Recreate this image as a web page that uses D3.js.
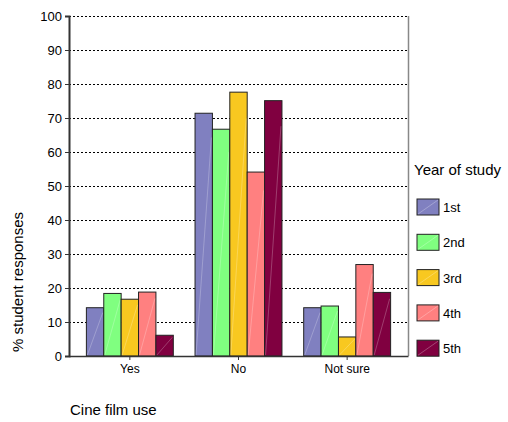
<!DOCTYPE html>
<html><head><meta charset="utf-8">
<script src="https://cdn.jsdelivr.net/npm/d3@7"></script>
<style>body{margin:0;background:#fff}svg{display:block}text{font-family:"Liberation Sans",Arial,sans-serif;fill:#000}</style>
</head><body><svg id="c" width="508" height="422"></svg>
<script>
const categories = ["Yes", "No", "Not sure"];
const seriesNames = ["1st", "2nd", "3rd", "4th", "5th"];
const seriesColors = ["#8080c0", "#80ff80", "#f8c820", "#ff8080", "#800040"];
const values = {
  "1st": [14.2, 71.4, 14.2],
  "2nd": [18.4, 66.7, 14.7],
  "3rd": [16.7, 77.6, 5.6],
  "4th": [18.8, 54.1, 26.9],
  "5th": [6.1, 75.1, 18.7]
};
const yTicks = [0,10,20,30,40,50,60,70,80,90,100];

const svg = d3.select("#c");
const L = 69, R = 408, T = 16, B = 356;
const y = d3.scaleLinear().domain([0,100]).range([B,T]);
const x0 = d3.scaleBand().domain(categories).range([L,R]).paddingInner(0.2).paddingOuter(0.16);
const x1 = d3.scaleBand().domain(seriesNames).range([0,x0.bandwidth()]);
const color = d3.scaleOrdinal().domain(seriesNames).range(seriesColors);

// gridlines
svg.append("g").selectAll("line").data(yTicks.filter(d=>d>0)).join("line")
  .attr("x1",L).attr("x2",R).attr("y1",d=>y(d)+0.5).attr("y2",d=>y(d)+0.5)
  .attr("stroke","#000").attr("stroke-dasharray","2,2").attr("stroke-width",1);
// right border
svg.append("line").attr("x1",R+0.5).attr("x2",R+0.5).attr("y1",T).attr("y2",B)
  .attr("stroke","#888").attr("stroke-width",1.5);

// bars
const g = svg.append("g");
categories.forEach((c,i)=>{
  seriesNames.forEach(s=>{
    const v = values[s][i];
    const bx = x0(c)+x1(s), bw = x1.bandwidth(), by = y(v), bh = y(0)-y(v);
    g.append("rect").attr("x",bx).attr("y",by).attr("width",bw).attr("height",bh)
      .attr("fill",color(s)).attr("stroke","#222").attr("stroke-width",1);
    g.append("line").attr("x1",bx+1).attr("y1",y(0)-1).attr("x2",bx+bw-1).attr("y2",Math.max(by+1,y(0)-bh*0.9))
      .attr("stroke","#fff").attr("stroke-opacity",0.3).attr("stroke-width",0.8);
  });
});

// y axis
const ya = svg.append("g").attr("transform",`translate(${L},0)`)
  .call(d3.axisLeft(y).tickValues(yTicks).tickSize(4).tickPadding(3));
ya.select(".domain").attr("stroke","#333").attr("stroke-width",2);
ya.selectAll(".tick line").attr("stroke","#333");
ya.selectAll("text").attr("font-size",13).style("font-family","Liberation Sans, Arial, sans-serif").attr("fill","#000");

// x axis
const xa = svg.append("g").attr("transform",`translate(0,${B})`)
  .call(d3.axisBottom(x0).tickSize(4).tickPadding(4).tickSizeOuter(0));
xa.select(".domain").attr("stroke","#333").attr("stroke-width",1.5);
xa.selectAll(".tick line").attr("stroke","#333");
xa.selectAll("text").attr("font-size",12).style("font-family","Liberation Sans, Arial, sans-serif").attr("fill","#000");

// axis titles
svg.append("text").attr("transform","translate(23,282) rotate(-90)").attr("text-anchor","middle")
  .attr("font-size",15).text("% student responses");
svg.append("text").attr("x",70).attr("y",415).attr("font-size",15).text("Cine film use");

// legend
svg.append("text").attr("x",414).attr("y",175).attr("font-size",15).text("Year of study");
const lg = svg.append("g").selectAll("g").data(seriesNames).join("g")
  .attr("transform",(d,i)=>`translate(417,${199+i*35.3})`);
lg.append("rect").attr("width",22).attr("height",16).attr("fill",d=>color(d)).attr("stroke","#222");
lg.append("line").attr("x1",1).attr("y1",15).attr("x2",21).attr("y2",1).attr("stroke","#fff").attr("stroke-opacity",0.35).attr("stroke-width",0.8);
lg.append("text").attr("x",26).attr("y",13).attr("font-size",13).text(d=>d);
</script></body></html>
